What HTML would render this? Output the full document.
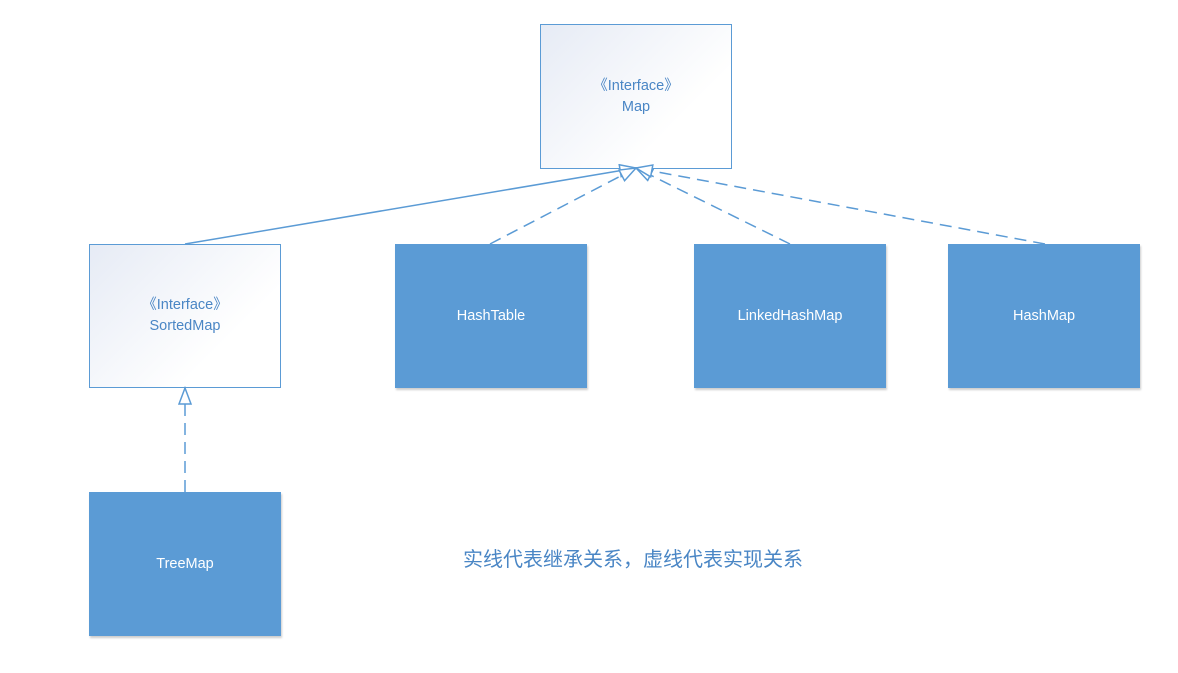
<!DOCTYPE html>
<html><head><meta charset="utf-8"><style>
body{margin:0;width:1178px;height:673px;background:#fff;position:relative;overflow:hidden;font-family:"Liberation Sans","Noto Sans CJK SC",sans-serif}
.b{position:absolute;width:192px;height:144px;box-sizing:border-box;display:flex;align-items:center;justify-content:center;text-align:center;font-size:14.5px;line-height:21px}
.i{border:1px solid #5b9bd5;background:linear-gradient(135deg,#e6ebf5 0%,#fff 70%);color:#4a86c5}
.c{background:#5b9bd5;color:#fff;box-shadow:1px 2px 2px rgba(0,0,0,.2)}
svg{position:absolute;left:0;top:0}
</style></head><body>
<div class="b i" style="left:540px;top:24px;height:145px">《Interface》<br>Map</div>
<div class="b i" style="left:89px;top:244px">《Interface》<br>SortedMap</div>
<div class="b c" style="left:395px;top:244px">HashTable</div>
<div class="b c" style="left:694px;top:244px">LinkedHashMap</div>
<div class="b c" style="left:948px;top:244px">HashMap</div>
<div class="b c" style="left:89px;top:492px">TreeMap</div>
<svg width="1178" height="673">
<defs><marker id="t" markerUnits="userSpaceOnUse" markerWidth="20" markerHeight="16" refX="17" refY="7" orient="auto"><path d="M1,1 L17,7 L1,13 z" fill="#fff" stroke="#5b9bd5" stroke-width="1.5"/></marker></defs>
<g stroke="#5b9bd5" stroke-width="1.5" fill="none">
<line x1="185" y1="244" x2="636" y2="168" marker-end="url(#t)"/>
<line x1="490" y1="244" x2="636" y2="168" stroke-dasharray="12,7" marker-end="url(#t)"/>
<line x1="790" y1="244" x2="636" y2="168" stroke-dasharray="12,7" marker-end="url(#t)"/>
<line x1="1045" y1="244" x2="636" y2="168" stroke-dasharray="12,7" marker-end="url(#t)"/>
<line x1="185" y1="492" x2="185" y2="388" stroke-dasharray="12,7" marker-end="url(#t)"/>
</g></svg>
<div style="position:absolute;left:463px;top:543px;font-size:20px;color:#4a86c5;white-space:nowrap">实线代表继承关系，虚线代表实现关系</div>
</body></html>
